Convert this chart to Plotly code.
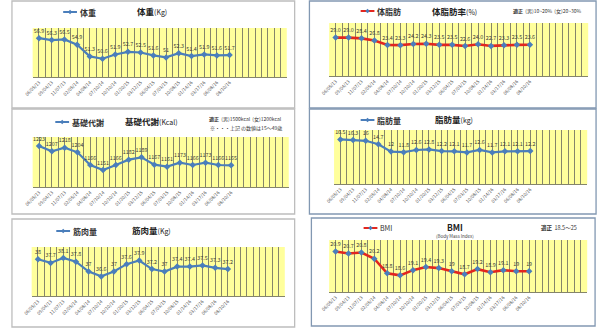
import plotly.graph_objects as go

# ---------------- data ----------------
dates = ["06/05/13", "09/04/13", "11/07/13", "02/05/14", "04/08/14", "07/10/14",
         "10/10/14", "01/20/15", "03/12/15", "06/04/15", "07/03/15", "10/08/15",
         "01/14/16", "03/17/16", "06/08/16", "08/10/16"]
weight = [56.9, 56.3, 56.5, 54.9, 51.3, 50.6, 51.9, 52.7, 52.5, 51.6, 51, 52.3, 51.4, 51.9, 51.6, 51.7]
body_fat = [29.0, 29.0, 28.4, 26.8, 23.4, 23.3, 24.2, 24.3, 23.5, 23.5, 22.6, 24.0, 22.7, 23.3, 23.5, 23.6]
bmr = [1223, 1207, 1218, 1204, 1166, 1151, 1166, 1182, 1189, 1167, 1161, 1173, 1166, 1173, 1166, 1165]
fat_mass = [16.5, 16.3, 16, 14.7, 12, 11.8, 12.6, 12.8, 12.2, 12.1, 11.7, 12.6, 11.7, 12.1, 12.1, 12.2]
muscle = [38, 37.7, 38.1, 37.8, 37, 36.6, 37, 37.6, 37.9, 37.2, 37, 37.4, 37.4, 37.5, 37.3, 37.2]
bmi = [20.9, 20.7, 20.8, 20.2, 18.8, 18.6, 19.1, 19.4, 19.3, 19, 18.7, 19.2, 18.9, 19.1, 19, 19]

body_fat_text = [f"{v:.1f}" for v in body_fat]

W, H = 600, 328
def fx(x): return x / W
def fy(y): return 1 - y / H

BLUE = "#4a7ebb"
RED = "#e3261e"
FONT = "Noto Sans CJK JP"

panels = [
    dict(vals=weight, text=None, line=BLUE, box=(3, 1, 290, 108), plot=(24, 28, 282, 77),
         yr=[45, 60], leg="体重", leg_xy=(55, 12), title="<b>体重</b><span style='font-size:7px'>(Kg)</span>",
         title_xy=(145, 11), bc="#bdbdbd"),
    dict(vals=body_fat, text=body_fat_text, line=RED, box=(305, 1, 596, 108), plot=(325, 23, 588, 76),
         yr=[0, 40], leg="体脂肪", leg_xy=(357, 11), title="<b>体脂肪率</b><span style='font-size:7px'>(%)</span>",
         title_xy=(452, 11), bc="#8298b2"),
    dict(vals=bmr, text=None, line=BLUE, box=(3, 109, 290, 214), plot=(24, 137, 284, 187),
         yr=[1100, 1250], leg="基礎代謝", leg_xy=(47, 122), title="<b>基礎代謝</b><span style='font-size:7px'>(Kcal)</span>",
         title_xy=(145, 121), bc="#bdbdbd"),
    dict(vals=fat_mass, text=None, line=BLUE, box=(305, 109, 596, 214), plot=(330, 130, 587, 184),
         yr=[0, 20], leg="脂肪量", leg_xy=(357, 120), title="<b>脂肪量</b><span style='font-size:7px'>(kg)</span>",
         title_xy=(452, 119), bc="#8298b2"),
    dict(vals=muscle, text=None, line=BLUE, box=(3, 219, 290, 327), plot=(23, 247, 280, 296),
         yr=[35, 39], leg="筋肉量", leg_xy=(48, 231), title="<b>筋肉量</b><span style='font-size:7px'>(Kg)</span>",
         title_xy=(145, 230), bc="#bdbdbd"),
    dict(vals=bmi, text=None, line=RED, box=(307, 218, 595, 326), plot=(325, 240, 587, 292),
         yr=[17, 22], leg="BMI", leg_xy=(360, 228), title="<b>BMI</b>",
         title_xy=(453, 227), bc="#8298b2"),
]

fig = go.Figure()
shapes = []
annotations = []

tickvals = [i * 0.5 - 0.5 for i in range(41)]
ticktext = []
for v in tickvals:
    if float(v).is_integer() and 0 <= v < len(dates):
        ticktext.append(dates[int(v)])
    else:
        ticktext.append("")

layout = dict(width=W, height=H, margin=dict(l=0, r=0, t=0, b=0),
              paper_bgcolor="white", plot_bgcolor="#ffff9c", showlegend=False,
              font=dict(family=FONT))

for i, p in enumerate(panels, start=1):
    xs = "" if i == 1 else str(i)
    x0, y0, x1, y1 = p["plot"]
    layout["xaxis" + xs] = dict(domain=[fx(x0), fx(x1)], anchor="y" + xs, range=[-0.5, 19.5],
                                tickmode="array", tickvals=tickvals, ticktext=ticktext,
                                tickangle=-45, tickfont=dict(size=4.6, color="#555555", family=FONT),
                                showgrid=True, gridcolor="#85856a", gridwidth=1,
                                showline=True, linecolor="#85856a", ticks="", zeroline=False,
                                fixedrange=True)
    layout["yaxis" + xs] = dict(domain=[fy(y1), fy(y0)], anchor="x" + xs, range=p["yr"],
                                showticklabels=False, showgrid=False, zeroline=False,
                                showline=False, fixedrange=True)
    vals = p["vals"]
    txt = p["text"] if p["text"] else [f"{v:g}" for v in vals]
    fig.add_trace(go.Scatter(x=list(range(len(vals))), y=vals, mode="lines+markers+text",
                             text=txt, textposition="top center",
                             textfont=dict(size=5.4, color="#3a3a3a", family=FONT),
                             line=dict(color=p["line"], width=2.2 if p["line"] == BLUE else 2.6),
                             marker=dict(symbol="diamond", size=5, color=BLUE),
                             cliponaxis=False, xaxis="x" + xs, yaxis="y" + xs))
    # panel border
    bx0, by0, bx1, by1 = p["box"]
    shapes.append(dict(type="rect", xref="paper", yref="paper", x0=fx(bx0), x1=fx(bx1),
                       y0=fy(by1), y1=fy(by0), line=dict(color=p["bc"], width=1.3)))
    # legend sample
    lx, ly = p["leg_xy"]
    shapes.append(dict(type="line", xref="paper", yref="paper", x0=fx(lx), x1=fx(lx + 14),
                       y0=fy(ly), y1=fy(ly), line=dict(color=p["line"], width=2)))
    d = 2.2
    cx = lx + 7
    shapes.append(dict(type="path", xref="paper", yref="paper",
                       path=f"M {fx(cx - d)},{fy(ly)} L {fx(cx)},{fy(ly - d)} L {fx(cx + d)},{fy(ly)} L {fx(cx)},{fy(ly + d)} Z",
                       fillcolor=BLUE, line=dict(color=BLUE, width=0)))
    leg_txt = p["leg"] if p["leg"] == "BMI" else f"<b>{p['leg']}</b>"
    annotations.append(dict(xref="paper", yref="paper", x=fx(lx + 15), y=fy(ly), text=leg_txt,
                            showarrow=False, xanchor="left", yanchor="middle",
                            font=dict(size=8 if p["leg"] != "BMI" else 7, color="#333333", family=FONT)))
    tx, ty = p["title_xy"]
    annotations.append(dict(xref="paper", yref="paper", x=fx(tx), y=fy(ty), text=p["title"],
                            showarrow=False, xanchor="center", yanchor="middle",
                            font=dict(size=8.5, color="#222222", family=FONT)))

# notes
annotations.append(dict(xref="paper", yref="paper", x=fx(584), y=fy(11),
                        text="<b>適正</b>  (男)10~20%  (女)20~30%", showarrow=False,
                        xanchor="right", yanchor="middle", font=dict(size=5, color="#333333", family=FONT)))
annotations.append(dict(xref="paper", yref="paper", x=fx(279), y=fy(119.5),
                        text="<b>適正</b>  (男)1500kcal  (女)1200kcal", showarrow=False,
                        xanchor="right", yanchor="middle", font=dict(size=5, color="#333333", family=FONT)))
annotations.append(dict(xref="paper", yref="paper", x=fx(279), y=fy(128),
                        text="※・・・上記 の数値は15～49歳", showarrow=False,
                        xanchor="right", yanchor="middle", font=dict(size=5, color="#333333", family=FONT)))
annotations.append(dict(xref="paper", yref="paper", x=fx(453), y=fy(236),
                        text="(Body Mass Index)", showarrow=False,
                        xanchor="center", yanchor="middle", font=dict(size=4.5, color="#444444", family=FONT)))
annotations.append(dict(xref="paper", yref="paper", x=fx(579), y=fy(228),
                        text="<b>適正</b>  18.5～25", showarrow=False,
                        xanchor="right", yanchor="middle", font=dict(size=5.5, color="#333333", family=FONT)))

layout["shapes"] = shapes
layout["annotations"] = annotations
fig.update_layout(**layout)
fig.write_html("out.html")
